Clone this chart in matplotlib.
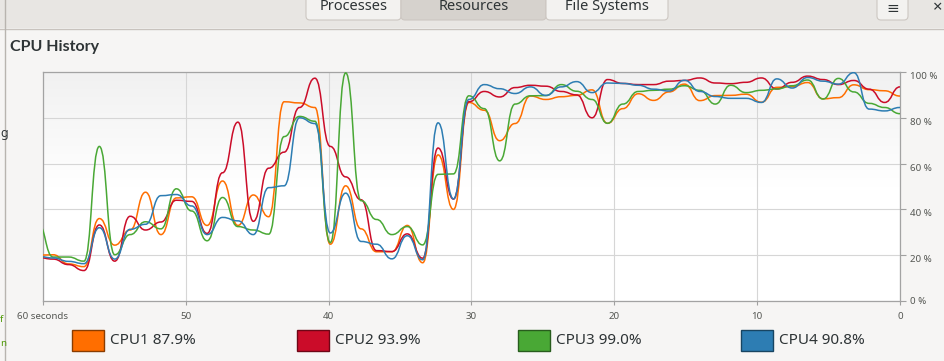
import matplotlib
matplotlib.use('Agg')
import matplotlib.pyplot as plt
import numpy as np
from matplotlib.path import Path
from matplotlib.patches import PathPatch, Rectangle, FancyBboxPatch
from matplotlib.colors import LinearSegmentedColormap

plt.rcParams['font.family'] = ['Noto Sans', 'DejaVu Sans']

# samples come about every 1.08 s, oldest first, the last one is "now"
seconds = np.arange(56, -1, -1) * 1.078

cpu1 = [20.0, 20.2, 16.2, 15.0, 36.0, 24.4, 31.0, 47.5, 29.0, 45.0,
        45.5, 33.0, 52.4, 33.0, 46.3, 36.8, 87.0, 86.5, 84.5, 24.8,
        50.3, 31.5, 21.5, 21.5, 33.0, 16.7, 63.8, 40.0, 86.7, 83.3,
        70.0, 77.5, 89.5, 88.0, 89.2, 89.8, 92.2, 77.6, 84.0, 90.5,
        87.6, 91.3, 94.7, 87.5, 89.7, 89.8, 90.3, 86.8, 93.3, 93.6,
        95.4, 88.3, 88.8, 94.4, 92.3, 91.8, 89.5]
cpu2 = [19.0, 18.3, 15.9, 13.3, 33.2, 17.4, 37.0, 31.0, 34.5, 44.0,
        43.5, 29.5, 56.0, 78.1, 34.8, 58.0, 65.0, 84.5, 97.3, 67.5,
        54.2, 44.2, 22.0, 21.6, 29.3, 18.7, 66.8, 44.5, 87.0, 91.5,
        89.1, 93.2, 94.2, 93.8, 91.5, 90.0, 80.0, 96.7, 95.0, 94.5,
        94.5, 96.0, 96.3, 97.4, 95.2, 94.9, 95.5, 97.4, 92.6, 95.5,
        98.2, 96.7, 94.5, 96.3, 92.5, 86.7, 93.5]
cpu3 = [34.0, 19.2, 19.2, 17.4, 67.5, 20.2, 29.0, 34.6, 31.5, 49.0,
        39.3, 26.3, 45.2, 32.5, 31.0, 29.2, 71.8, 80.6, 78.5, 25.5,
        99.6, 43.8, 35.6, 29.0, 32.5, 24.5, 55.3, 55.5, 89.6, 84.0,
        61.2, 86.0, 89.6, 89.7, 94.5, 91.6, 88.0, 77.6, 86.0, 91.5,
        92.0, 92.5, 94.0, 92.0, 86.0, 94.2, 91.0, 92.0, 92.6, 94.0,
        96.5, 88.2, 97.2, 91.3, 86.3, 84.5, 81.8]
cpu4 = [19.5, 18.8, 17.3, 16.3, 32.0, 18.3, 31.3, 33.5, 46.0, 46.5,
        41.5, 29.0, 36.5, 35.0, 29.0, 49.5, 50.3, 80.0, 77.5, 29.7,
        47.1, 26.0, 24.8, 18.4, 28.5, 18.0, 77.8, 44.6, 88.0, 94.5,
        92.7, 90.6, 93.5, 89.8, 93.5, 95.8, 91.0, 95.2, 95.0, 94.2,
        92.5, 91.7, 96.4, 91.5, 89.3, 88.5, 88.5, 86.7, 97.0, 93.0,
        97.6, 96.0, 94.7, 99.7, 83.8, 83.0, 84.5]

names = ['CPU1', 'CPU2', 'CPU3', 'CPU4']
current = [87.9, 93.9, 99.0, 90.8]
colors = ['#ff6e00', '#cb0c29', '#49a835', '#2d7db3']
edges = ['#8a3c00', '#6e0616', '#285c1d', '#184562']

x_ticks = [60, 50, 40, 30, 20, 10, 0]
x_labels = ['60 seconds', '50', '40', '30', '20', '10', '0']
y_ticks = [0, 20, 40, 60, 80, 100]
y_labels = ['%d %%' % v for v in y_ticks]
tabs = ['Processes', 'Resources', 'File Systems']

W, H = 945, 361
fig = plt.figure(figsize=(W / 100, H / 100), dpi=100)
fig.patch.set_facecolor('#f6f5f4')

# window chrome drawn in pixel coords
bg = fig.add_axes([0, 0, 1, 1], zorder=0)
bg.set_xlim(0, W)
bg.set_ylim(H, 0)
bg.axis('off')

bg.add_patch(Rectangle((0, 0), W, 28, facecolor='#e8e6e3', edgecolor='none'))
bg.plot([0, W], [28.5, 28.5], color='#c8c3be', lw=1)
bg.plot([4.5, 4.5], [0, H], color='#b8b4af', lw=1)

tab_x = [306, 401, 546, 668]
for i, t in enumerate(tabs):
    fc = '#d6d2cd' if t == 'Resources' else '#f3f2f0'
    bg.add_patch(FancyBboxPatch((tab_x[i], -8), tab_x[i + 1] - tab_x[i], 28,
                                boxstyle='round,pad=0,rounding_size=4',
                                facecolor=fc, edgecolor='#cdc7c2', lw=0.8))
    bg.text((tab_x[i] + tab_x[i + 1]) / 2, 7, t, ha='center', va='center',
            fontsize=10.5, color='#2e3436')

bg.add_patch(FancyBboxPatch((877, -8), 31, 28, boxstyle='round,pad=0,rounding_size=4',
                            facecolor='#f3f2f0', edgecolor='#cdc7c2', lw=0.8))
bg.text(892.5, 9, '≡', ha='center', va='center', fontsize=11, color='#2e3436')
bg.text(933, 8, '×', ha='left', va='center', fontsize=12, color='#2e3436')

# bits of the window behind
bg.text(0, 133, 'g', ha='left', va='center', fontsize=9, fontweight='bold', color='#2e3436')
bg.text(0, 320, 'f', ha='left', va='center', fontsize=7, color='#4e9a06')
bg.text(0, 343, 'n', ha='left', va='center', fontsize=7, color='#4e9a06')

bg.text(10, 47, 'CPU History', ha='left', va='center', fontsize=11.5,
        fontweight='bold', color='#2e3436', family=['Lato', 'DejaVu Sans'])

# legend
sw_x = [72, 297, 518, 741]
for i in range(4):
    bg.add_patch(Rectangle((sw_x[i], 330), 32, 21, facecolor=colors[i],
                           edgecolor=edges[i], lw=1))
    bg.text(sw_x[i] + 38, 340.5, '%s %.1f%%' % (names[i], current[i]),
            ha='left', va='center', fontsize=11, color='#2e3436')

# the graph
ax = fig.add_axes([43 / W, 60 / H, 857 / W, 229 / H], zorder=1)
ax.set_xlim(60, 0)
ax.set_ylim(0, 100)

shade = LinearSegmentedColormap.from_list('shade', ['#ffffff', '#ffffff', '#f1f1f1'])
grad = np.linspace(0, 1, 256).reshape(-1, 1)
ax.imshow(grad, extent=[60, 0, 0, 100], origin='lower', aspect='auto',
          cmap=shade, zorder=0)

ax.set_xticks(x_ticks)
ax.set_xticklabels(x_labels)
ax.set_yticks(y_ticks)
ax.set_yticklabels(y_labels)
ax.grid(True, color='#d6d6d6', lw=0.8, zorder=1)
ax.yaxis.tick_right()
ax.tick_params(axis='y', length=4, pad=3, color='#a0a0a0', labelsize=7, labelcolor='#555753')
ax.tick_params(axis='x', length=3, pad=5, color='#a0a0a0', labelsize=7, labelcolor='#555753')
for lab in ax.get_yticklabels()[1:]:
    lab.set_va('top')
for s in ax.spines.values():
    s.set_color('#a3a3a3')
    s.set_linewidth(0.9)


def smooth(xs, ys):
    # flat tangents at every sample, like the system monitor draws it
    verts = [(xs[0], ys[0])]
    codes = [Path.MOVETO]
    for k in range(1, len(xs)):
        xm = (xs[k - 1] + xs[k]) / 2
        verts += [(xm, ys[k - 1]), (xm, ys[k]), (xs[k], ys[k])]
        codes += [Path.CURVE4] * 3
    return Path(verts, codes)


for vals, c in zip([cpu1, cpu2, cpu3, cpu4], colors):
    ax.add_patch(PathPatch(smooth(seconds, vals), facecolor='none',
                           edgecolor=c, lw=1.1, zorder=3))

plt.savefig('out.png', dpi=100, facecolor=fig.get_facecolor())
